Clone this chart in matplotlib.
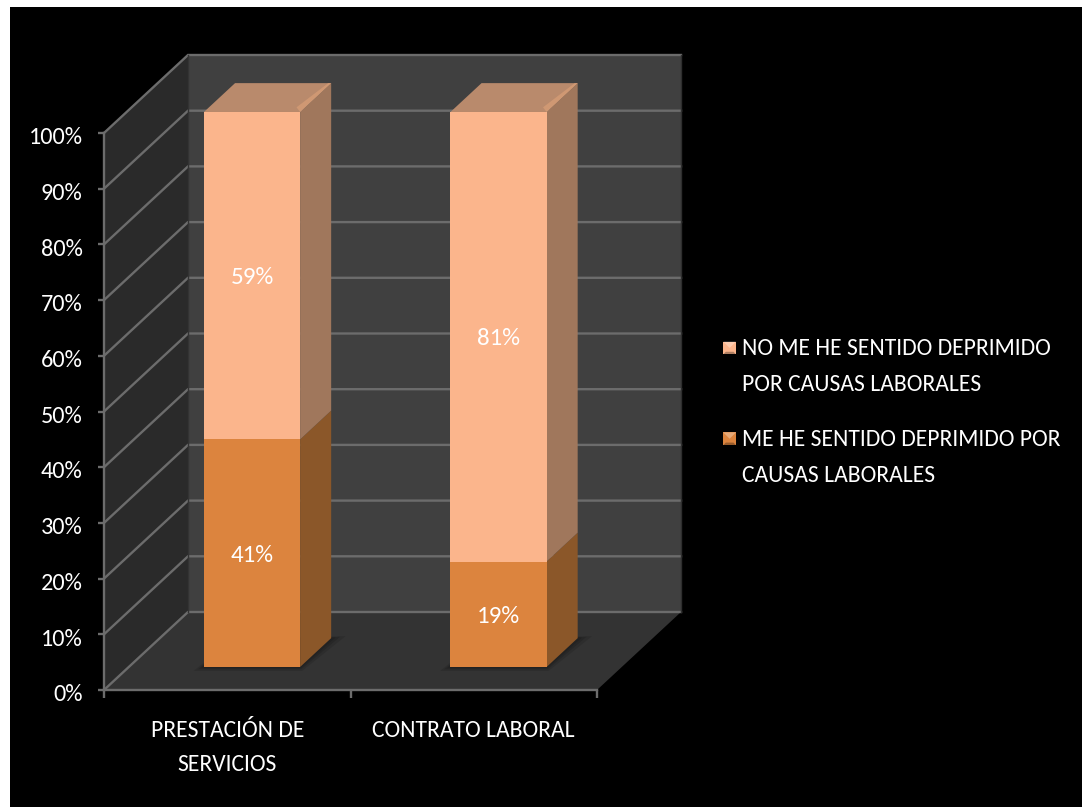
import matplotlib
matplotlib.use("Agg")
import matplotlib.pyplot as plt
from matplotlib.legend_handler import HandlerBase
from matplotlib.patches import Patch, Polygon, Rectangle
from matplotlib.transforms import ScaledTranslation

plt.rcParams['font.family'] = ['Carlito', 'Liberation Sans', 'DejaVu Sans']

categories = ["PRESTACIÓN DE\nSERVICIOS", "CONTRATO LABORAL"]
deprimido = [41, 19]
no_deprimido = [59, 81]
value_labels = [["41%", "19%"], ["59%", "81%"]]
y_ticks = [0, 10, 20, 30, 40, 50, 60, 70, 80, 90, 100]
legend_labels = ["NO ME HE SENTIDO DEPRIMIDO\nPOR CAUSAS LABORALES",
                 "ME HE SENTIDO DEPRIMIDO POR\nCAUSAS LABORALES"]

W, H = 1082, 807
FS = 17

# oblique projection: depth 1 is the back wall
DEPTH_X = 84 / 246.5
DEPTH_Y = 78 / 5.57
BAR_WIDTH = 0.39
BAR_D0 = 0.295
BAR_D1 = 0.665
BAR_SCALE = 555 / 557

LIGHT = dict(front="#fbb58c", side="#a0775c", top="#b98a6c", edge="#cf9873")
DARK = dict(front="#dc843e", side="#8b5729", top="#a0662f", edge="#a0662f")
GRID = "#6c6c6c"


def proj(x, y, d):
    return (x + d * DEPTH_X, y + d * DEPTH_Y)


def bar_y(v):
    return v * BAR_SCALE


def face(ax, pts, color, z, **kw):
    ax.add_patch(Polygon(pts, closed=True, facecolor=color, edgecolor="none",
                         clip_on=False, zorder=z, **kw))


def draw_segment(ax, xc, y0, y1, colors, z):
    xl, xr = xc - BAR_WIDTH / 2, xc + BAR_WIDTH / 2
    y0, y1 = bar_y(y0), bar_y(y1)
    face(ax, [proj(xr, y0, BAR_D0), proj(xr, y0, BAR_D1),
              proj(xr, y1, BAR_D1), proj(xr, y1, BAR_D0)], colors["side"], z)
    face(ax, [proj(xl, y0, BAR_D0), proj(xr, y0, BAR_D0),
              proj(xr, y1, BAR_D0), proj(xl, y1, BAR_D0)], colors["front"], z + 0.1)


class BevelHandler(HandlerBase):
    # small pyramid-shaded square used as legend key, level with the first text line
    def create_artists(self, legend, orig, xd, yd, width, height, fontsize, trans):
        c = orig.get_facecolor()
        s = 9.2
        x0 = width - s + 2
        y0 = 15 - yd
        mid = (x0 + s / 2, y0 + s / 2)
        base = Rectangle((x0, y0), s, s, facecolor=c, edgecolor="none", transform=trans)
        top = Polygon([(x0, y0 + s), (x0 + s, y0 + s), mid], facecolor="white",
                      alpha=0.3, edgecolor="none", transform=trans)
        bot = Polygon([(x0, y0), (x0 + s, y0), (x0 + s * 0.8, y0 + s * 0.2), (x0 + s * 0.2, y0 + s * 0.2)],
                      facecolor="black", alpha=0.3, edgecolor="none", transform=trans)
        return [base, top, bot]


fig = plt.figure(figsize=(W / 100, H / 100), dpi=100, facecolor="white")

bg = fig.add_axes([10 / W, 0, 1 - 10 / W, 1 - 7 / H])
bg.set_facecolor("black")
bg.set_xticks([])
bg.set_yticks([])
for s in bg.spines.values():
    s.set_visible(False)

ax = fig.add_axes([104 / W, (H - 690) / H, 493 / W, 557 / H])
ax.set_xlim(0, 2)
ax.set_ylim(0, 100)
ax.patch.set_visible(False)

# walls and floor
face(ax, [proj(0, 0, 0), proj(0, 0, 1), proj(0, 100, 1), proj(0, 100, 0)], "#2a2a2a", 1)
face(ax, [proj(0, 0, 1), proj(2, 0, 1), proj(2, 100, 1), proj(0, 100, 1)], "#404040", 1)
face(ax, [proj(0, 0, 0), proj(2, 0, 0), proj(2, 0, 1), proj(0, 0, 1)], "#333333", 1)

for t in y_ticks:
    xs, ys = zip(proj(0, t, 0), proj(0, t, 1), proj(2, t, 1))
    ax.plot(xs, ys, color=GRID, lw=1.7, clip_on=False, zorder=2, solid_joinstyle="miter")
xs, ys = zip(proj(2, 0, 1), proj(2, 100, 1))
ax.plot(xs, ys, color="#2e2e2e", lw=1, clip_on=False, zorder=2)
xs, ys = zip(proj(0, 0, 1), proj(0, 100, 1))
ax.plot(xs, ys, color="#333333", lw=1, clip_on=False, zorder=2)

# bars
positions = [i + 0.5 for i in range(len(categories))]
for i, xc in enumerate(positions):
    xl, xr = xc - BAR_WIDTH / 2, xc + BAR_WIDTH / 2
    # soft shadow on the floor around the base
    for grow, alpha in [(0.05, 0.25), (0.03, 0.35), (0.015, 0.45)]:
        face(ax, [proj(xl - grow / 2, 0, BAR_D0 - grow), proj(xr + grow / 2, 0, BAR_D0 - grow),
                  proj(xr + grow, 0, BAR_D1 + grow / 2), proj(xl, 0, BAR_D1)],
             "#1c1c1c", 3, alpha=alpha)
    draw_segment(ax, xc, 0, deprimido[i], DARK, 4)
    total = deprimido[i] + no_deprimido[i]
    draw_segment(ax, xc, deprimido[i], total, LIGHT, 4)
    ytop = bar_y(total)
    face(ax, [proj(xl, ytop, BAR_D0), proj(xr, ytop, BAR_D0),
              proj(xr, ytop, BAR_D1), proj(xl, ytop, BAR_D1)], LIGHT["top"], 5)
    # lighter bevel where the top meets the side
    face(ax, [proj(xr, ytop, BAR_D0), proj(xr, ytop, BAR_D1),
              proj(xr - 0.012, ytop, BAR_D1), proj(xr - 0.035, ytop, BAR_D0 + 0.06)],
         LIGHT["edge"], 5.1)
    for value_y, text in [(deprimido[i] / 2, value_labels[0][i]),
                          (deprimido[i] + no_deprimido[i] / 2, value_labels[1][i])]:
        ax.annotate(text, proj(xc, bar_y(value_y), BAR_D0), xytext=(0, -1.5),
                    textcoords="offset points", color="white", fontsize=18,
                    ha="center", va="center", zorder=6, annotation_clip=False)

# axes
for side in ("top", "right"):
    ax.spines[side].set_visible(False)
for side in ("left", "bottom"):
    ax.spines[side].set_color(GRID)
    ax.spines[side].set_linewidth(1.7)
    ax.spines[side].set_zorder(3)
ax.set_yticks(y_ticks)
ax.set_yticklabels([f"{t}%" for t in y_ticks], fontsize=17.5, color="white")
ax.tick_params(axis="y", length=4.5, width=1.7, color=GRID, pad=11)
nudge = ScaledTranslation(0, -2 / 72, fig.dpi_scale_trans)
for lab in ax.get_yticklabels():
    lab.set_transform(lab.get_transform() + nudge)
ax.set_xticks([0, 1, 2])
ax.set_xticklabels([])
ax.set_xticks(positions, minor=True)
ax.set_xticklabels(categories, minor=True, fontsize=FS, color="white", linespacing=1.79)
ax.tick_params(axis="x", which="major", length=6, width=1.7, color=GRID)
ax.tick_params(axis="x", which="minor", length=0, pad=21.5)

handles = [Patch(facecolor=LIGHT["front"]), Patch(facecolor=DARK["front"])]
leg = fig.legend(handles, legend_labels, handler_map={Patch: BevelHandler()},
                 loc="upper left", bbox_to_anchor=(712 / W, 1 - 338 / H),
                 frameon=False, fontsize=FS, labelcolor="white",
                 handlelength=0.9, handletextpad=0.35, labelspacing=1.42,
                 borderpad=0, borderaxespad=0)
for t in leg.get_texts():
    t.set_linespacing(1.9)

fig.savefig("out.png", dpi=100, facecolor=fig.get_facecolor())
